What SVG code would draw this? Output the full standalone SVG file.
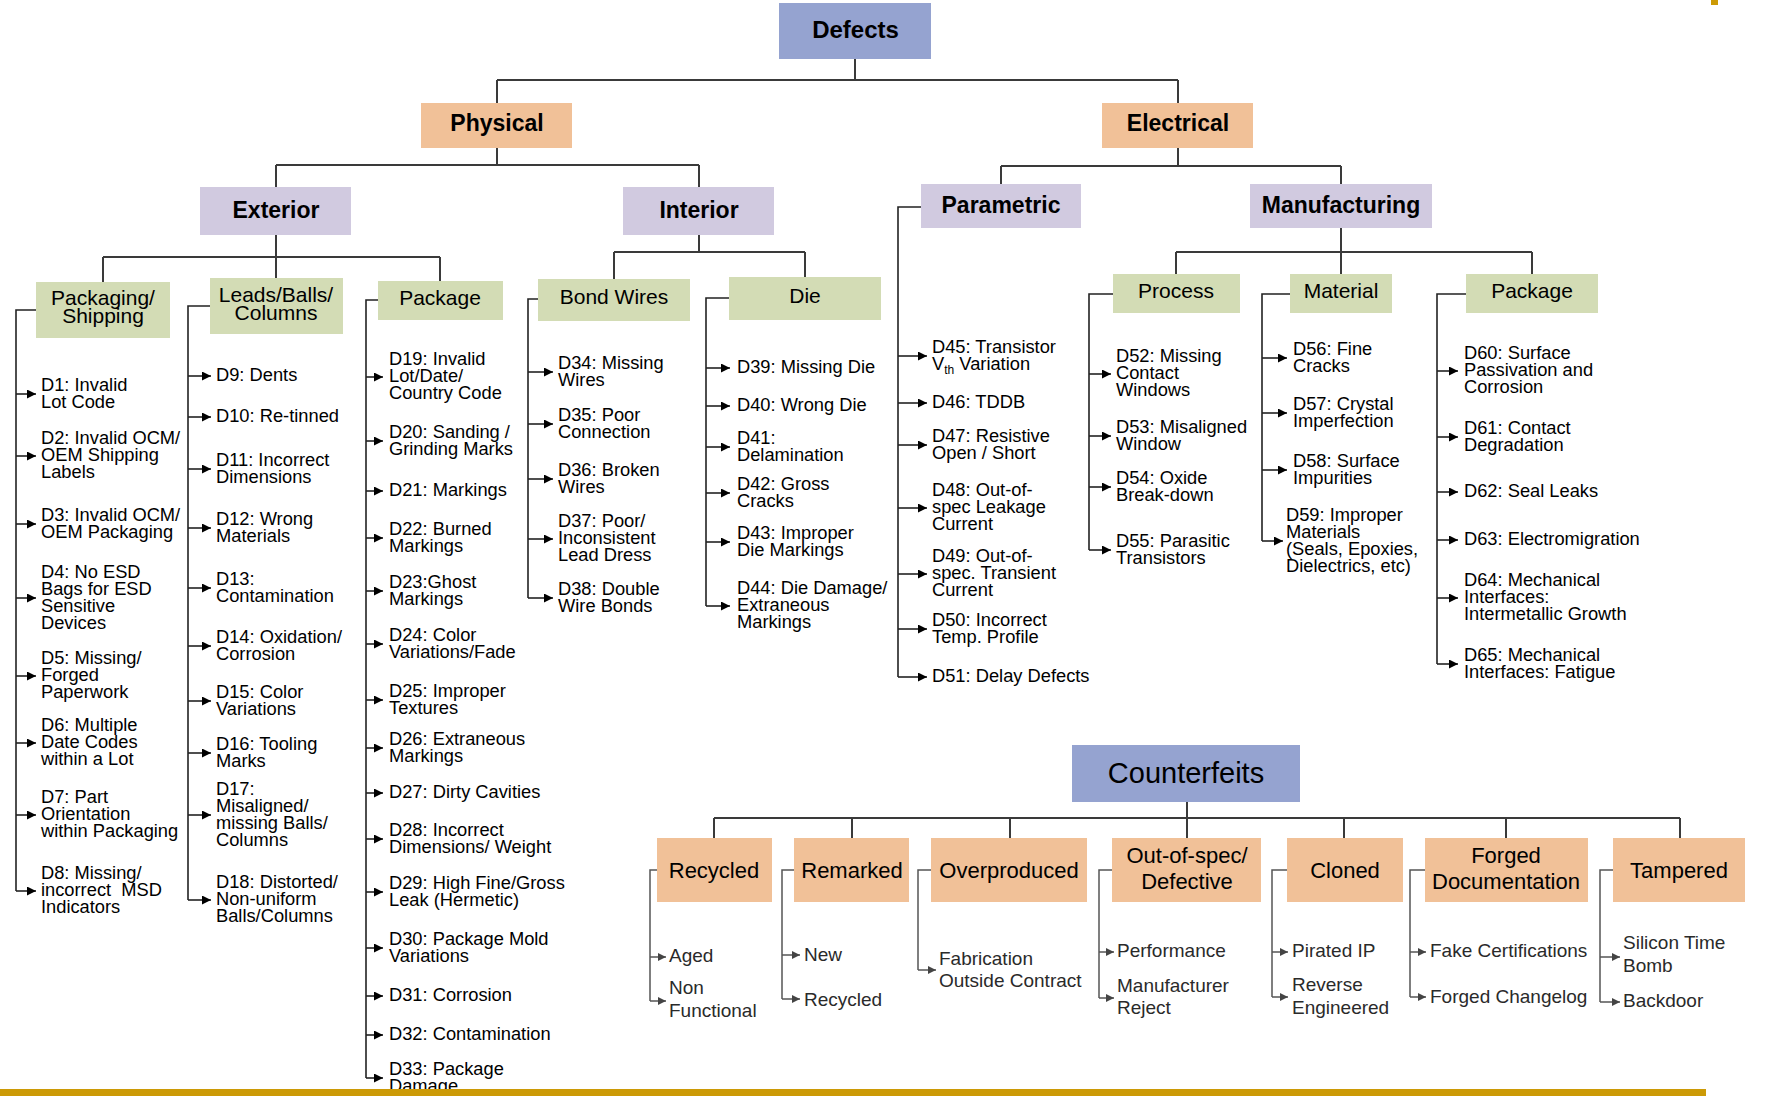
<svg xmlns="http://www.w3.org/2000/svg" width="1767" height="1101" viewBox="0 0 1767 1101">
<defs>
<style>
text{font-family:"Liberation Sans",Arial,sans-serif;fill:#000}
.it{font-size:18.3px}
.bl{font-size:21px;text-anchor:middle}
.bd{font-size:23px;font-weight:bold;text-anchor:middle}
.cl{font-size:22px;text-anchor:middle}
.lf{font-size:19px;fill:#2a2a2a}
.blue{fill:#95A3D0}
.peach{fill:#F1C198}
.lav{fill:#D1CAE0}
.grn{fill:#D3DCB5}
.ln{fill:none;stroke:#3a3a3a;stroke-width:2}
.cn{fill:none;stroke:#222;stroke-width:1.6}
.ar{fill:none;stroke:#222;stroke-width:1.6;marker-end:url(#ah)}
.lc{fill:none;stroke:#555;stroke-width:1.5}
.la{fill:none;stroke:#555;stroke-width:1.5;marker-end:url(#ahs)}
</style>
<marker id="ah" viewBox="0 0 10 10" refX="10" refY="5" markerWidth="10" markerHeight="9" markerUnits="userSpaceOnUse" orient="auto"><path d="M0,0 L10,5 L0,10 z" fill="#000"/></marker>
<marker id="ahs" viewBox="0 0 10 10" refX="10" refY="5" markerWidth="8" markerHeight="8" markerUnits="userSpaceOnUse" orient="auto"><path d="M0,0 L10,5 L0,10 z" fill="#444"/></marker>
</defs>
<rect width="1767" height="1101" fill="#fff"/>

<g id="connectors">
<path class="ln" d="M855,59 V80 M497,80 H1178 M497,80 V103 M1178,80 V103"/>
<path class="ln" d="M497,148 V165 M276,165 H699 M276,165 V187 M699,165 V187"/>
<path class="ln" d="M1178,148 V166 M1001,166 H1341 M1001,166 V184 M1341,166 V184"/>
<path class="ln" d="M276,235 V257 M103,257 H440 M103,257 V282 M276,257 V278 M440,257 V281"/>
<path class="ln" d="M699,235 V252 M614,252 H805 M614,252 V279 M805,252 V277"/>
<path class="ln" d="M1341,228 V252 M1176,252 H1532 M1176,252 V274 M1341,252 V274 M1532,252 V274"/>
<path class="ln" d="M1187,802 V838 M714,818 H1680 M714,818 V838 M852,818 V838 M1010,818 V838 M1344,818 V838 M1506,818 V838 M1680,818 V838"/>

<path class="cn" d="M36,310 H16 V891"/>
<line class="ar" x1="16" y1="394" x2="36" y2="394"/>
<line class="ar" x1="16" y1="456" x2="36" y2="456"/>
<line class="ar" x1="16" y1="524" x2="36" y2="524"/>
<line class="ar" x1="16" y1="598" x2="36" y2="598"/>
<line class="ar" x1="16" y1="676" x2="36" y2="676"/>
<line class="ar" x1="16" y1="743" x2="36" y2="743"/>
<line class="ar" x1="16" y1="815" x2="36" y2="815"/>
<line class="ar" x1="16" y1="891" x2="36" y2="891"/>

<path class="cn" d="M210,306 H188 V900" stroke="#666"/>
<line class="ar" x1="188" y1="376" x2="211" y2="376"/>
<line class="ar" x1="188" y1="417" x2="211" y2="417"/>
<line class="ar" x1="188" y1="469" x2="211" y2="469"/>
<line class="ar" x1="188" y1="528" x2="211" y2="528"/>
<line class="ar" x1="188" y1="588" x2="211" y2="588"/>
<line class="ar" x1="188" y1="646" x2="211" y2="646"/>
<line class="ar" x1="188" y1="701" x2="211" y2="701"/>
<line class="ar" x1="188" y1="753" x2="211" y2="753"/>
<line class="ar" x1="188" y1="815" x2="211" y2="815"/>
<line class="ar" x1="188" y1="900" x2="211" y2="900"/>

<path class="cn" d="M378,300 H366 V1078"/>
<line class="ar" x1="366" y1="377" x2="383" y2="377"/>
<line class="ar" x1="366" y1="441" x2="383" y2="441"/>
<line class="ar" x1="366" y1="491" x2="383" y2="491"/>
<line class="ar" x1="366" y1="538" x2="383" y2="538"/>
<line class="ar" x1="366" y1="591" x2="383" y2="591"/>
<line class="ar" x1="366" y1="644" x2="383" y2="644"/>
<line class="ar" x1="366" y1="700" x2="383" y2="700"/>
<line class="ar" x1="366" y1="748" x2="383" y2="748"/>
<line class="ar" x1="366" y1="793" x2="383" y2="793"/>
<line class="ar" x1="366" y1="839" x2="383" y2="839"/>
<line class="ar" x1="366" y1="892" x2="383" y2="892"/>
<line class="ar" x1="366" y1="948" x2="383" y2="948"/>
<line class="ar" x1="366" y1="996" x2="383" y2="996"/>
<line class="ar" x1="366" y1="1035" x2="383" y2="1035"/>
<line class="ar" x1="366" y1="1078" x2="383" y2="1078"/>

<path class="cn" d="M538,299 H528 V598"/>
<line class="ar" x1="528" y1="372" x2="553" y2="372"/>
<line class="ar" x1="528" y1="424" x2="553" y2="424"/>
<line class="ar" x1="528" y1="479" x2="553" y2="479"/>
<line class="ar" x1="528" y1="539" x2="553" y2="539"/>
<line class="ar" x1="528" y1="598" x2="553" y2="598"/>

<path class="cn" d="M729,298 H706 V606"/>
<line class="ar" x1="706" y1="368" x2="730" y2="368"/>
<line class="ar" x1="706" y1="406" x2="730" y2="406"/>
<line class="ar" x1="706" y1="447" x2="730" y2="447"/>
<line class="ar" x1="706" y1="493" x2="730" y2="493"/>
<line class="ar" x1="706" y1="542" x2="730" y2="542"/>
<line class="ar" x1="706" y1="606" x2="730" y2="606"/>

<path class="cn" d="M921,207 H898 V677"/>
<line class="ar" x1="898" y1="356" x2="927" y2="356"/>
<line class="ar" x1="898" y1="403" x2="927" y2="403"/>
<line class="ar" x1="898" y1="445" x2="927" y2="445"/>
<line class="ar" x1="898" y1="508" x2="927" y2="508"/>
<line class="ar" x1="898" y1="574" x2="927" y2="574"/>
<line class="ar" x1="898" y1="629" x2="927" y2="629"/>
<line class="ar" x1="898" y1="677" x2="927" y2="677"/>

<path class="cn" d="M1113,294 H1089 V550"/>
<line class="ar" x1="1089" y1="374" x2="1111" y2="374"/>
<line class="ar" x1="1089" y1="436" x2="1111" y2="436"/>
<line class="ar" x1="1089" y1="487" x2="1111" y2="487"/>
<line class="ar" x1="1089" y1="550" x2="1111" y2="550"/>

<path class="cn" d="M1290,294 H1262 V541"/>
<line class="ar" x1="1262" y1="358" x2="1287" y2="358"/>
<line class="ar" x1="1262" y1="413" x2="1287" y2="413"/>
<line class="ar" x1="1262" y1="470" x2="1287" y2="470"/>
<line class="ar" x1="1262" y1="541" x2="1283" y2="541"/>

<path class="cn" d="M1466,294 H1437 V664"/>
<line class="ar" x1="1437" y1="371" x2="1458" y2="371"/>
<line class="ar" x1="1437" y1="437" x2="1458" y2="437"/>
<line class="ar" x1="1437" y1="492" x2="1458" y2="492"/>
<line class="ar" x1="1437" y1="540" x2="1458" y2="540"/>
<line class="ar" x1="1437" y1="598" x2="1458" y2="598"/>
<line class="ar" x1="1437" y1="664" x2="1458" y2="664"/>

<path class="lc" d="M657,870 H650 V1001"/>
<line class="la" x1="650" y1="957" x2="666" y2="957"/>
<line class="la" x1="650" y1="1001" x2="666" y2="1001"/>
<path class="lc" d="M794,870 H782 V999"/>
<line class="la" x1="782" y1="955" x2="800" y2="955"/>
<line class="la" x1="782" y1="999" x2="800" y2="999"/>
<path class="lc" d="M931,870 H918 V970"/>
<line class="la" x1="918" y1="970" x2="936" y2="970"/>
<path class="lc" d="M1112,870 H1099 V998"/>
<line class="la" x1="1099" y1="952" x2="1114" y2="952"/>
<line class="la" x1="1099" y1="998" x2="1114" y2="998"/>
<path class="lc" d="M1287,870 H1272 V997"/>
<line class="la" x1="1272" y1="952" x2="1288" y2="952"/>
<line class="la" x1="1272" y1="997" x2="1288" y2="997"/>
<path class="lc" d="M1425,870 H1410 V997"/>
<line class="la" x1="1410" y1="952" x2="1426" y2="952"/>
<line class="la" x1="1410" y1="997" x2="1426" y2="997"/>
<path class="lc" d="M1613,870 H1600 V1002"/>
<line class="la" x1="1600" y1="957" x2="1620" y2="957"/>
<line class="la" x1="1600" y1="1002" x2="1620" y2="1002"/>
</g>

<g id="defects"><rect class="blue" x="779" y="3" width="152" height="56"/><text class="bd" x="855.5" y="38" style="font-size:24px">Defects</text></g>
<g id="physical"><rect class="peach" x="421" y="103" width="151" height="45"/><text class="bd" x="497" y="131">Physical</text></g>
<g id="electrical"><rect class="peach" x="1102" y="103" width="151" height="45"/><text class="bd" x="1178" y="131">Electrical</text></g>
<g id="exterior"><rect class="lav" x="200" y="187" width="151" height="48"/><text class="bd" x="276" y="218">Exterior</text></g>
<g id="interior"><rect class="lav" x="623" y="187" width="151" height="48"/><text class="bd" x="699" y="218">Interior</text></g>
<g id="parametric"><rect class="lav" x="921" y="184" width="160" height="44"/><text class="bd" x="1001" y="213">Parametric</text></g>
<g id="manufacturing"><rect class="lav" x="1250" y="184" width="182" height="44"/><text class="bd" x="1341" y="213">Manufacturing</text></g>

<g id="packaging-shipping"><rect class="grn" x="36" y="282" width="134" height="56"/><text class="bl" x="103" y="305"><tspan x="103">Packaging/</tspan><tspan x="103" dy="18">Shipping</tspan></text></g>
<g id="leads-balls-columns"><rect class="grn" x="210" y="278" width="133" height="56"/><text class="bl" x="276" y="302"><tspan x="276">Leads/Balls/</tspan><tspan x="276" dy="18">Columns</tspan></text></g>
<g id="package-ext"><rect class="grn" x="378" y="281" width="125" height="39"/><text class="bl" x="440" y="305">Package</text></g>
<g id="bond-wires"><rect class="grn" x="538" y="279" width="152" height="42"/><text class="bl" x="614" y="304">Bond Wires</text></g>
<g id="die"><rect class="grn" x="729" y="277" width="152" height="43"/><text class="bl" x="805" y="303">Die</text></g>
<g id="process"><rect class="grn" x="1113" y="274" width="127" height="39"/><text class="bl" x="1176" y="298">Process</text></g>
<g id="material"><rect class="grn" x="1290" y="274" width="102" height="39"/><text class="bl" x="1341" y="298">Material</text></g>
<g id="package-elec"><rect class="grn" x="1466" y="274" width="132" height="39"/><text class="bl" x="1532" y="298">Package</text></g>

<g id="d1"><text class="it" y="390.5"><tspan x="41">D1: Invalid</tspan><tspan x="41" dy="17">Lot Code</tspan></text></g>
<g id="d2"><text class="it" y="444"><tspan x="41">D2: Invalid OCM/</tspan><tspan x="41" dy="17">OEM Shipping</tspan><tspan x="41" dy="17">Labels</tspan></text></g>
<g id="d3"><text class="it" y="520.5"><tspan x="41">D3: Invalid OCM/</tspan><tspan x="41" dy="17">OEM Packaging</tspan></text></g>
<g id="d4"><text class="it" y="577.5"><tspan x="41">D4: No ESD</tspan><tspan x="41" dy="17">Bags for ESD</tspan><tspan x="41" dy="17">Sensitive</tspan><tspan x="41" dy="17">Devices</tspan></text></g>
<g id="d5"><text class="it" y="664"><tspan x="41">D5: Missing/</tspan><tspan x="41" dy="17">Forged</tspan><tspan x="41" dy="17">Paperwork</tspan></text></g>
<g id="d6"><text class="it" y="731"><tspan x="41">D6: Multiple</tspan><tspan x="41" dy="17">Date Codes</tspan><tspan x="41" dy="17">within a Lot</tspan></text></g>
<g id="d7"><text class="it" y="803"><tspan x="41">D7: Part</tspan><tspan x="41" dy="17">Orientation</tspan><tspan x="41" dy="17">within Packaging</tspan></text></g>
<g id="d8"><text class="it" y="879"><tspan x="41">D8: Missing/</tspan><tspan x="41" dy="17" xml:space="preserve">incorrect  MSD</tspan><tspan x="41" dy="17">Indicators</tspan></text></g>

<g id="d9"><text class="it" x="216" y="381">D9: Dents</text></g>
<g id="d10"><text class="it" x="216" y="422">D10: Re-tinned</text></g>
<g id="d11"><text class="it" y="465.5"><tspan x="216">D11: Incorrect</tspan><tspan x="216" dy="17">Dimensions</tspan></text></g>
<g id="d12"><text class="it" y="524.5"><tspan x="216">D12: Wrong</tspan><tspan x="216" dy="17">Materials</tspan></text></g>
<g id="d13"><text class="it" y="584.5"><tspan x="216">D13:</tspan><tspan x="216" dy="17">Contamination</tspan></text></g>
<g id="d14"><text class="it" y="642.5"><tspan x="216">D14: Oxidation/</tspan><tspan x="216" dy="17">Corrosion</tspan></text></g>
<g id="d15"><text class="it" y="697.5"><tspan x="216">D15: Color</tspan><tspan x="216" dy="17">Variations</tspan></text></g>
<g id="d16"><text class="it" y="749.5"><tspan x="216">D16: Tooling</tspan><tspan x="216" dy="17">Marks</tspan></text></g>
<g id="d17"><text class="it" y="794.5"><tspan x="216">D17:</tspan><tspan x="216" dy="17">Misaligned/</tspan><tspan x="216" dy="17">missing Balls/</tspan><tspan x="216" dy="17">Columns</tspan></text></g>
<g id="d18"><text class="it" y="888"><tspan x="216">D18: Distorted/</tspan><tspan x="216" dy="17">Non-uniform</tspan><tspan x="216" dy="17">Balls/Columns</tspan></text></g>

<g id="d19"><text class="it" y="365"><tspan x="389">D19: Invalid</tspan><tspan x="389" dy="17">Lot/Date/</tspan><tspan x="389" dy="17">Country Code</tspan></text></g>
<g id="d20"><text class="it" y="437.5"><tspan x="389">D20: Sanding /</tspan><tspan x="389" dy="17">Grinding Marks</tspan></text></g>
<g id="d21"><text class="it" x="389" y="496">D21: Markings</text></g>
<g id="d22"><text class="it" y="534.5"><tspan x="389">D22: Burned</tspan><tspan x="389" dy="17">Markings</tspan></text></g>
<g id="d23"><text class="it" y="587.5"><tspan x="389">D23:Ghost</tspan><tspan x="389" dy="17">Markings</tspan></text></g>
<g id="d24"><text class="it" y="640.5"><tspan x="389">D24: Color</tspan><tspan x="389" dy="17">Variations/Fade</tspan></text></g>
<g id="d25"><text class="it" y="696.5"><tspan x="389">D25: Improper</tspan><tspan x="389" dy="17">Textures</tspan></text></g>
<g id="d26"><text class="it" y="744.5"><tspan x="389">D26: Extraneous</tspan><tspan x="389" dy="17">Markings</tspan></text></g>
<g id="d27"><text class="it" x="389" y="798">D27: Dirty Cavities</text></g>
<g id="d28"><text class="it" y="835.5"><tspan x="389">D28: Incorrect</tspan><tspan x="389" dy="17">Dimensions/ Weight</tspan></text></g>
<g id="d29"><text class="it" y="888.5"><tspan x="389">D29: High Fine/Gross</tspan><tspan x="389" dy="17">Leak (Hermetic)</tspan></text></g>
<g id="d30"><text class="it" y="944.5"><tspan x="389">D30: Package Mold</tspan><tspan x="389" dy="17">Variations</tspan></text></g>
<g id="d31"><text class="it" x="389" y="1001">D31: Corrosion</text></g>
<g id="d32"><text class="it" x="389" y="1040">D32: Contamination</text></g>
<g id="d33"><text class="it" y="1074.5"><tspan x="389">D33: Package</tspan><tspan x="389" dy="17">Damage</tspan></text></g>

<g id="d34"><text class="it" y="368.5"><tspan x="558">D34: Missing</tspan><tspan x="558" dy="17">Wires</tspan></text></g>
<g id="d35"><text class="it" y="420.5"><tspan x="558">D35: Poor</tspan><tspan x="558" dy="17">Connection</tspan></text></g>
<g id="d36"><text class="it" y="475.5"><tspan x="558">D36: Broken</tspan><tspan x="558" dy="17">Wires</tspan></text></g>
<g id="d37"><text class="it" y="527"><tspan x="558">D37: Poor/</tspan><tspan x="558" dy="17">Inconsistent</tspan><tspan x="558" dy="17">Lead Dress</tspan></text></g>
<g id="d38"><text class="it" y="594.5"><tspan x="558">D38: Double</tspan><tspan x="558" dy="17">Wire Bonds</tspan></text></g>

<g id="d39"><text class="it" x="737" y="373">D39: Missing Die</text></g>
<g id="d40"><text class="it" x="737" y="411">D40: Wrong Die</text></g>
<g id="d41"><text class="it" y="443.5"><tspan x="737">D41:</tspan><tspan x="737" dy="17">Delamination</tspan></text></g>
<g id="d42"><text class="it" y="489.5"><tspan x="737">D42: Gross</tspan><tspan x="737" dy="17">Cracks</tspan></text></g>
<g id="d43"><text class="it" y="538.5"><tspan x="737">D43: Improper</tspan><tspan x="737" dy="17">Die Markings</tspan></text></g>
<g id="d44"><text class="it" y="594"><tspan x="737">D44: Die Damage/</tspan><tspan x="737" dy="17">Extraneous</tspan><tspan x="737" dy="17">Markings</tspan></text></g>

<g id="d45"><text class="it" y="352.5"><tspan x="932">D45: Transistor</tspan><tspan x="932" dy="17">V</tspan><tspan dy="4" style="font-size:12px">th</tspan><tspan dy="-4"> Variation</tspan></text></g>
<g id="d46"><text class="it" x="932" y="408">D46: TDDB</text></g>
<g id="d47"><text class="it" y="441.5"><tspan x="932">D47: Resistive</tspan><tspan x="932" dy="17">Open / Short</tspan></text></g>
<g id="d48"><text class="it" y="496"><tspan x="932">D48: Out-of-</tspan><tspan x="932" dy="17">spec Leakage</tspan><tspan x="932" dy="17">Current</tspan></text></g>
<g id="d49"><text class="it" y="562"><tspan x="932">D49: Out-of-</tspan><tspan x="932" dy="17">spec. Transient</tspan><tspan x="932" dy="17">Current</tspan></text></g>
<g id="d50"><text class="it" y="625.5"><tspan x="932">D50: Incorrect</tspan><tspan x="932" dy="17">Temp. Profile</tspan></text></g>
<g id="d51"><text class="it" x="932" y="682">D51: Delay Defects</text></g>

<g id="d52"><text class="it" y="362"><tspan x="1116">D52: Missing</tspan><tspan x="1116" dy="17">Contact</tspan><tspan x="1116" dy="17">Windows</tspan></text></g>
<g id="d53"><text class="it" y="432.5"><tspan x="1116">D53: Misaligned</tspan><tspan x="1116" dy="17">Window</tspan></text></g>
<g id="d54"><text class="it" y="483.5"><tspan x="1116">D54: Oxide</tspan><tspan x="1116" dy="17">Break-down</tspan></text></g>
<g id="d55"><text class="it" y="546.5"><tspan x="1116">D55: Parasitic</tspan><tspan x="1116" dy="17">Transistors</tspan></text></g>

<g id="d56"><text class="it" y="354.5"><tspan x="1293">D56: Fine</tspan><tspan x="1293" dy="17">Cracks</tspan></text></g>
<g id="d57"><text class="it" y="409.5"><tspan x="1293">D57: Crystal</tspan><tspan x="1293" dy="17">Imperfection</tspan></text></g>
<g id="d58"><text class="it" y="466.5"><tspan x="1293">D58: Surface</tspan><tspan x="1293" dy="17">Impurities</tspan></text></g>
<g id="d59"><text class="it" y="520.5"><tspan x="1286">D59: Improper</tspan><tspan x="1286" dy="17">Materials</tspan><tspan x="1286" dy="17">(Seals, Epoxies,</tspan><tspan x="1286" dy="17">Dielectrics, etc)</tspan></text></g>

<g id="d60"><text class="it" y="359"><tspan x="1464">D60: Surface</tspan><tspan x="1464" dy="17">Passivation and</tspan><tspan x="1464" dy="17">Corrosion</tspan></text></g>
<g id="d61"><text class="it" y="433.5"><tspan x="1464">D61: Contact</tspan><tspan x="1464" dy="17">Degradation</tspan></text></g>
<g id="d62"><text class="it" x="1464" y="497">D62: Seal Leaks</text></g>
<g id="d63"><text class="it" x="1464" y="545">D63: Electromigration</text></g>
<g id="d64"><text class="it" y="586"><tspan x="1464">D64: Mechanical</tspan><tspan x="1464" dy="17">Interfaces:</tspan><tspan x="1464" dy="17">Intermetallic Growth</tspan></text></g>
<g id="d65"><text class="it" y="660.5"><tspan x="1464">D65: Mechanical</tspan><tspan x="1464" dy="17">Interfaces: Fatigue</tspan></text></g>

<g id="counterfeits"><rect class="blue" x="1072" y="745" width="228" height="57"/><text x="1186" y="783" style="font-size:29px;text-anchor:middle">Counterfeits</text></g>
<g id="recycled"><rect class="peach" x="657" y="838" width="115" height="64"/><text class="cl" x="714" y="878">Recycled</text></g>
<g id="remarked"><rect class="peach" x="794" y="838" width="115" height="64"/><text class="cl" x="852" y="878">Remarked</text></g>
<g id="overproduced"><rect class="peach" x="931" y="838" width="156" height="64"/><text class="cl" x="1009" y="878">Overproduced</text></g>
<g id="out-of-spec"><rect class="peach" x="1112" y="838" width="149" height="64"/><text class="cl" y="863"><tspan x="1187">Out-of-spec/</tspan><tspan x="1187" dy="26">Defective</tspan></text></g>
<g id="cloned"><rect class="peach" x="1287" y="838" width="116" height="64"/><text class="cl" x="1345" y="878">Cloned</text></g>
<g id="forged-documentation"><rect class="peach" x="1425" y="838" width="163" height="64"/><text class="cl" y="863"><tspan x="1506">Forged</tspan><tspan x="1506" dy="26">Documentation</tspan></text></g>
<g id="tampered"><rect class="peach" x="1613" y="838" width="132" height="64"/><text class="cl" x="1679" y="878">Tampered</text></g>

<g id="aged"><text class="lf" x="669" y="962">Aged</text></g>
<g id="non-functional"><text class="lf" y="994"><tspan x="669">Non</tspan><tspan x="669" dy="23">Functional</tspan></text></g>
<g id="new"><text class="lf" x="804" y="961">New</text></g>
<g id="recycled-leaf"><text class="lf" x="804" y="1006">Recycled</text></g>
<g id="fabrication"><text class="lf" y="965"><tspan x="939">Fabrication</tspan><tspan x="939" dy="22">Outside Contract</tspan></text></g>
<g id="performance"><text class="lf" x="1117" y="957">Performance</text></g>
<g id="manufacturer-reject"><text class="lf" y="992"><tspan x="1117">Manufacturer</tspan><tspan x="1117" dy="22">Reject</tspan></text></g>
<g id="pirated-ip"><text class="lf" x="1292" y="957">Pirated IP</text></g>
<g id="reverse-engineered"><text class="lf" y="991"><tspan x="1292">Reverse</tspan><tspan x="1292" dy="23">Engineered</tspan></text></g>
<g id="fake-certifications"><text class="lf" x="1430" y="957">Fake Certifications</text></g>
<g id="forged-changelog"><text class="lf" x="1430" y="1003">Forged Changelog</text></g>
<g id="silicon-time-bomb"><text class="lf" y="949"><tspan x="1623">Silicon Time</tspan><tspan x="1623" dy="23">Bomb</tspan></text></g>
<g id="backdoor"><text class="lf" x="1623" y="1007">Backdoor</text></g>

<rect x="0" y="1089" width="1706" height="7" fill="#CC9A06"/>
<rect x="1711" y="0" width="7" height="5" fill="#CC9A06"/>
</svg>
